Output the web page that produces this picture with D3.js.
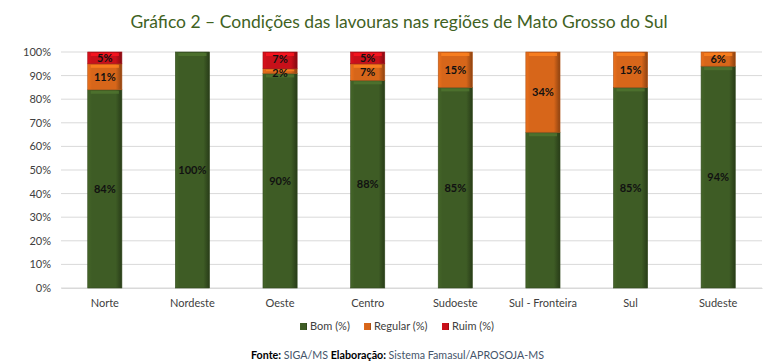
<!DOCTYPE html>
<html>
<head>
<meta charset="utf-8">
<script src="https://cdn.jsdelivr.net/npm/d3@7"></script>
<style>
  body { margin: 0; background: #fff; }
  text { font-family: Lato, "Open Sans", sans-serif; }
</style>
</head>
<body>
<div id="chart"></div>
<script>
// dados
var regioes = ["Norte", "Nordeste", "Oeste", "Centro", "Sudoeste", "Sul - Fronteira", "Sul", "Sudeste"];
var bom     = [84, 100, 90, 88, 85, 66, 85, 94];
var regular = [11, 0, 2, 7, 15, 34, 15, 6];
var ruim    = [5, 0, 7, 5, 0, 0, 0, 0];
var series  = ["Bom (%)", "Regular (%)", "Ruim (%)"];
var yTicks  = [0, 0.1, 0.2, 0.3, 0.4, 0.5, 0.6, 0.7, 0.8, 0.9, 1];
// no original o rótulo de "Bom" em Sul - Fronteira não aparece
var rotulosOcultos = ["Sul - Fronteira|b"];

var cores = ["#3e5c25", "#d7661a", "#c8101a"];

var W = 782, H = 364;
var margin = {top: 52, right: 20, bottom: 76, left: 61};
var width = W - margin.left - margin.right,
    height = H - margin.top - margin.bottom;

var rows = regioes.map(function (r, i) {
    return {regiao: r, b: bom[i], g: regular[i], m: ruim[i]};
});
var keys = ["b", "g", "m"];

var stack = d3.stack().keys(keys).offset(d3.stackOffsetExpand);
var layers = stack(rows);

var x = d3.scaleBand().domain(regioes).range([0, width]).paddingInner(0.61).paddingOuter(0.305);
var y = d3.scaleLinear().domain([0, 1]).range([height, 0]);

var svg = d3.select("#chart").append("svg")
    .attr("width", W).attr("height", H);

//gradientes para efeito de chanfro
var defs = svg.append("defs");
cores.forEach(function (c, i) {
    var g = defs.append("linearGradient").attr("id", "grad" + i)
        .attr("x1", "0%").attr("x2", "100%").attr("y1", "0%").attr("y2", "0%");
    g.append("stop").attr("offset", "0%").attr("stop-color", d3.color(c).brighter(0.25));
    g.append("stop").attr("offset", "12%").attr("stop-color", c);
    g.append("stop").attr("offset", "82%").attr("stop-color", c);
    g.append("stop").attr("offset", "100%").attr("stop-color", d3.color(c).darker(1.2));
});

//titulo
svg.append("text")
    .attr("x", 399).attr("y", 28)
    .attr("text-anchor", "middle")
    .style("font-size", "17.5px")
    .style("fill", "#41621f")
    .text("Gráfico 2 – Condições das lavouras nas regiões de Mato Grosso do Sul");

var g = svg.append("g").attr("transform", "translate(" + margin.left + "," + margin.top + ")");

//grade
g.selectAll("line.grid").data(yTicks).enter().append("line")
    .attr("class", "grid")
    .attr("x1", 0).attr("x2", width)
    .attr("y1", function (d) { return y(d); })
    .attr("y2", function (d) { return y(d); })
    .attr("stroke", "#d9d9d9").attr("stroke-width", 1);

//eixo y
var yAxis = g.append("g")
    .call(d3.axisLeft(y).tickValues(yTicks).tickFormat(d3.format(".0%")).tickSize(0).tickPadding(10));
yAxis.select(".domain").remove();
yAxis.selectAll("text").style("font-size", "11px").style("fill", "#404040")
    .style("font-family", "Lato, 'Open Sans', sans-serif");

//eixo x
var xAxis = g.append("g").attr("transform", "translate(0," + height + ")")
    .call(d3.axisBottom(x).tickSize(0).tickPadding(11));
xAxis.select(".domain").attr("stroke", "#d9d9d9");
xAxis.selectAll("text").style("font-size", "11px").style("fill", "#404040")
    .style("font-family", "Lato, 'Open Sans', sans-serif");

//barras
var layer = g.selectAll("g.layer").data(layers).enter().append("g")
    .attr("class", "layer");

var seg = layer.selectAll("g.seg")
    .data(function (d, i) {
        return d.map(function (p) { return {y0: p[0], y1: p[1], data: p.data, k: i, key: d.key}; });
    })
    .enter().append("g").attr("class", "seg")
    .filter(function (d) { return d.y1 - d.y0 > 0; });

seg.append("rect")
    .attr("x", function (d) { return x(d.data.regiao); })
    .attr("y", function (d) { return y(d.y1); })
    .attr("width", x.bandwidth())
    .attr("height", function (d) { return y(d.y0) - y(d.y1); })
    .attr("fill", function (d) { return "url(#grad" + d.k + ")"; })
    .attr("stroke", function (d) { return d3.color(cores[d.k]).darker(0.6); })
    .attr("stroke-width", 0.6);

//faixa clara no topo (chanfro)
seg.append("rect")
    .attr("x", function (d) { return x(d.data.regiao) + 3; })
    .attr("y", function (d) { return y(d.y1) + 1; })
    .attr("width", x.bandwidth() - 6)
    .attr("height", function (d) { return Math.min(3, (y(d.y0) - y(d.y1)) / 3); })
    .attr("fill", function (d) { return d3.color(cores[d.k]).brighter(0.7); })
    .attr("opacity", 0.8);

//rotulos
seg.filter(function (d) { return rotulosOcultos.indexOf(d.data.regiao + "|" + d.key) < 0; })
    .append("text")
    .attr("x", function (d) { return x(d.data.regiao) + x.bandwidth() / 2; })
    .attr("y", function (d) {
        var yy = (y(d.y0) + y(d.y1)) / 2 + 4;
        // rótulo pequeno de 2% fica logo abaixo do 7% em Oeste
        if (d.data.regiao === "Oeste" && d.key === "g") yy += 2;
        if (d.data.regiao === "Oeste" && d.key === "m") yy -= 1;
        return yy;
    })
    .attr("text-anchor", "middle")
    .style("font-size", "11px").style("font-weight", "bold").style("fill", "#111")
    .text(function (d) { return d.data[d.key] + "%"; });

//legenda
var legX = [300, 364, 442];
var leg = svg.append("g").attr("transform", "translate(0,330)");
series.forEach(function (s, i) {
    var lg = leg.append("g").attr("transform", "translate(" + legX[i] + ",0)");
    lg.append("rect").attr("x", 0).attr("y", -7).attr("width", 7).attr("height", 7)
        .attr("fill", "url(#grad" + i + ")");
    lg.append("text").attr("x", 10).attr("y", 0)
        .style("font-size", "11px").style("fill", "#404040").text(s);
});

//fonte
var fonte = svg.append("text").attr("x", 251).attr("y", 359)
    .style("font-size", "10.7px");
fonte.append("tspan").style("font-weight", "bold").style("fill", "#000").text("Fonte: ");
fonte.append("tspan").style("fill", "#44546a").text("SIGA/MS ");
fonte.append("tspan").style("font-weight", "bold").style("fill", "#000").text("Elaboração: ");
fonte.append("tspan").style("fill", "#44546a").text("Sistema Famasul/APROSOJA-MS");
</script>
</body>
</html>
